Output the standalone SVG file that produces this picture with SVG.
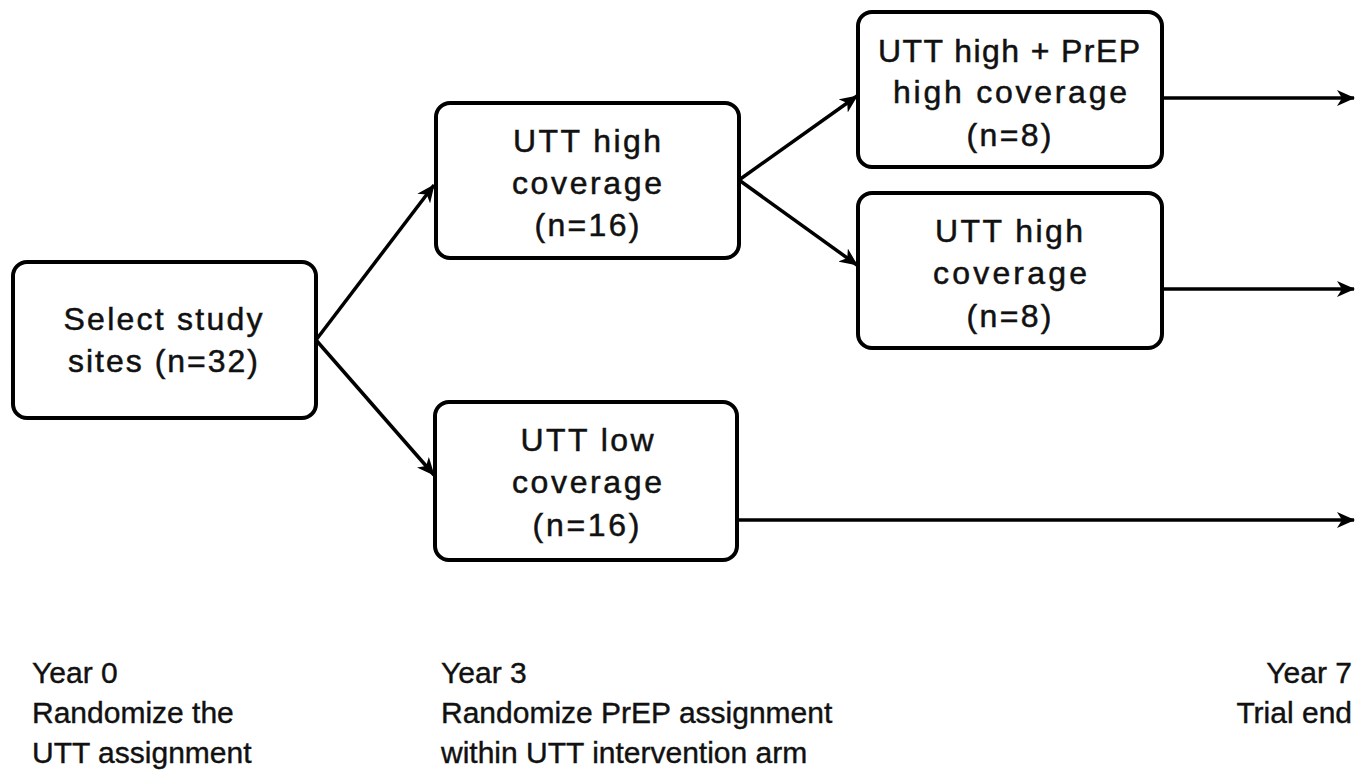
<svg xmlns="http://www.w3.org/2000/svg" width="1368" height="772" viewBox="0 0 1368 772">
  <style>
    .box { fill: #ffffff; stroke: #000000; stroke-width: 4; }
    .lbl { font-family: "Liberation Sans", Arial, sans-serif; font-size: 32px; fill: #111111; stroke: #111111; stroke-width: 0.5; text-anchor: middle; }
    .note { font-family: "Liberation Sans", Arial, sans-serif; font-size: 30px; fill: #111111; stroke: #111111; stroke-width: 0.4; }
    .conn { fill: none; stroke: #000000; stroke-width: 3.5; marker-end: url(#arrow); }
  </style>
  <defs>
    <marker id="arrow" viewBox="0 0 18 16" refX="17" refY="8" markerWidth="18" markerHeight="16" markerUnits="userSpaceOnUse" orient="auto">
      <path d="M0,0 L18,8 L0,16 L5,8 z" fill="#000000"/>
    </marker>
  </defs>
  <rect width="1368" height="772" fill="#ffffff"/>

  <g id="connectors">
    <line class="conn" x1="316" y1="340" x2="434" y2="185"/>
    <line class="conn" x1="316" y1="340" x2="434" y2="475"/>
    <line class="conn" x1="739" y1="180" x2="857" y2="96"/>
    <line class="conn" x1="739" y1="180" x2="857" y2="265"/>
    <line class="conn" x1="1162" y1="98" x2="1354" y2="98"/>
    <line class="conn" x1="1162" y1="289" x2="1354" y2="289"/>
    <line class="conn" x1="737" y1="520" x2="1354" y2="520"/>
  </g>

  <g id="node-select">
    <rect class="box" x="13" y="262" width="303" height="156" rx="14"/>
    <text class="lbl" x="163" y="330" textLength="199" lengthAdjust="spacing">Select study</text>
    <text class="lbl" x="163" y="372" textLength="190" lengthAdjust="spacing">sites (n=32)</text>
  </g>

  <g id="node-utt-high">
    <rect class="box" x="436" y="103" width="303" height="155" rx="14"/>
    <text class="lbl" x="587" y="152" textLength="148" lengthAdjust="spacing">UTT high</text>
    <text class="lbl" x="587" y="194" textLength="150" lengthAdjust="spacing">coverage</text>
    <text class="lbl" x="587" y="236" textLength="105" lengthAdjust="spacing">(n=16)</text>
  </g>

  <g id="node-utt-low">
    <rect class="box" x="435" y="402" width="302" height="158" rx="14"/>
    <text class="lbl" x="587" y="451" textLength="133" lengthAdjust="spacing">UTT low</text>
    <text class="lbl" x="587" y="493" textLength="150" lengthAdjust="spacing">coverage</text>
    <text class="lbl" x="586" y="536" textLength="107" lengthAdjust="spacing">(n=16)</text>
  </g>

  <g id="node-utt-prep">
    <rect class="box" x="858" y="12" width="304" height="155" rx="14"/>
    <text class="lbl" x="1009" y="62" textLength="262" lengthAdjust="spacing">UTT high + PrEP</text>
    <text class="lbl" x="1010" y="103" textLength="234" lengthAdjust="spacing">high coverage</text>
    <text class="lbl" x="1009" y="146" textLength="85" lengthAdjust="spacing">(n=8)</text>
  </g>

  <g id="node-utt-high-only">
    <rect class="box" x="858" y="193" width="304" height="155" rx="14"/>
    <text class="lbl" x="1009" y="242" textLength="148" lengthAdjust="spacing">UTT high</text>
    <text class="lbl" x="1010" y="284" textLength="154" lengthAdjust="spacing">coverage</text>
    <text class="lbl" x="1009" y="327" textLength="85" lengthAdjust="spacing">(n=8)</text>
  </g>

  <g id="timeline-labels">
    <text class="note" x="32" y="683">Year 0</text>
    <text class="note" x="32" y="723">Randomize the</text>
    <text class="note" x="32" y="763">UTT assignment</text>
    <text class="note" x="441" y="683">Year 3</text>
    <text class="note" x="441" y="723">Randomize PrEP assignment</text>
    <text class="note" x="441" y="763">within UTT intervention arm</text>
    <text class="note" x="1352" y="683" text-anchor="end">Year 7</text>
    <text class="note" x="1352" y="723" text-anchor="end">Trial end</text>
  </g>
</svg>
